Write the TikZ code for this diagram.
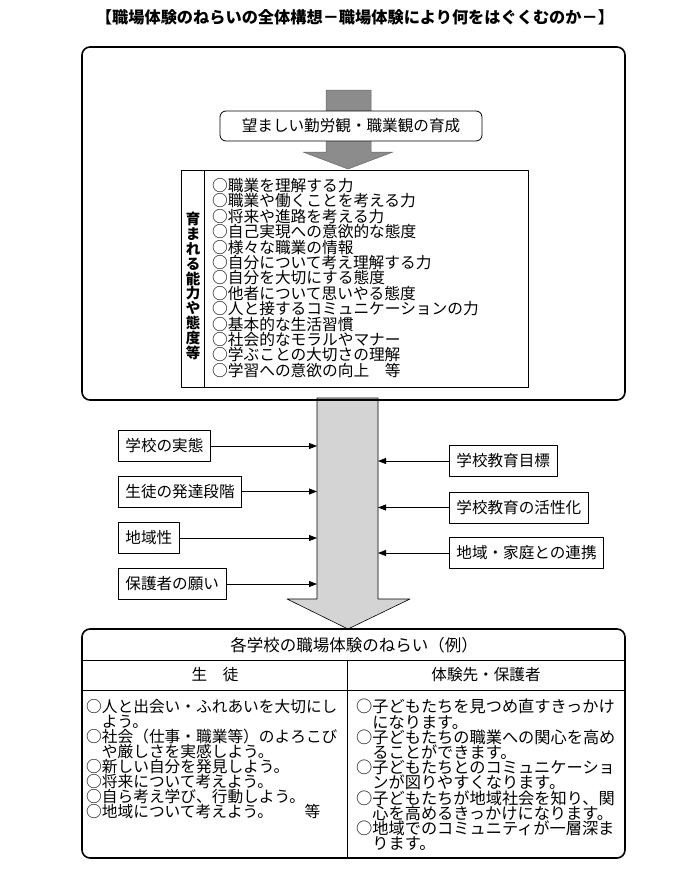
\documentclass[tikz,border=0pt]{standalone}
\usepackage{fontspec}
\setmainfont{Noto Sans CJK JP}
\usetikzlibrary{arrows.meta,positioning}
\tikzset{
  factor/.style={draw, line width=0.8pt, fill=white, inner sep=0pt, inner xsep=7pt, minimum height=31pt, font=\fontsize{15.6}{15.6}\selectfont},
  listtext/.style={inner sep=0pt, align=left, anchor=north west},
  thickframe/.style={line width=1.6pt, rounded corners=8pt}
}
\begin{document}
\begin{tikzpicture}[x=1pt,y=-1pt,>={Triangle[length=8pt,width=6pt]}, line join=round]
	\useasboundingbox (0,0) rectangle (700,886);
	\node[font=\fontsize{16.2}{16.2}\selectfont\bfseries] (title) at (355,17) {【職場体験のねらいの全体構想－職場体験により何をはぐくむのか－】};
	% upper part
	\filldraw[fill=black!45, draw=black!60, line width=0.5pt] (326,90)--(371,90)--(371,152)--(393,152)--(348,169)--(303,152)--(326,152)--cycle;
	\node[draw, fill=white, rounded corners=6pt, line width=0.8pt, minimum width=262pt, minimum height=30pt, font=\fontsize{15.6}{15.6}\selectfont] (goal) at (351,126) {望ましい勤労観・職業観の育成};
	\draw[line width=0.8pt] (181,170) rectangle (528,387) (204,170)--(204,387);
	\node[inner sep=0pt, align=center, font=\fontsize{14.5}{14.9}\selectfont\bfseries] (ability) at (193,286) {育\\ま\\れ\\る\\能\\力\\や\\態\\度\\等};
	\node[listtext, font=\fontsize{15.7}{15.4}\selectfont] (abilitylist) at (212,178) {○職業を理解する力\\○職業や働くことを考える力\\○将来や進路を考える力\\○自己実現への意欲的な態度\\○様々な職業の情報\\○自分について考え理解する力\\○自分を大切にする態度\\○他者について思いやる態度\\○人と接するコミュニケーションの力\\○基本的な生活習慣\\○社会的なモラルやマナー\\○学ぶことの大切さの理解\\○学習への意欲の向上　等};
	% middle arrow
	\filldraw[fill=black!17, draw=black, line width=0.6pt] (317,398)--(378,398)--(378,599)--(410,599)--(348,629)--(287,599)--(317,599)--cycle;
	\draw[thickframe] (82,47) rectangle (625,400);
	\coordinate (sL) at (317,0);
	\coordinate (sR) at (378,0);
	\node[factor, anchor=west] (jittai) at (118,446) {学校の実態};
	\node[factor, anchor=west] (hattatsu) at (118,491.5) {生徒の発達段階};
	\node[factor, anchor=west] (chiiki) at (118,538) {地域性};
	\node[factor, anchor=west] (negai) at (118,584) {保護者の願い};
	\node[factor, anchor=west] (mokuhyo) at (449,461) {学校教育目標};
	\node[factor, anchor=west] (kasseika) at (449,507.5) {学校教育の活性化};
	\node[factor, anchor=west] (renkei) at (449,553) {地域・家庭との連携};
	\foreach \n in {jittai,hattatsu,chiiki,negai}
		\draw[->, line width=0.8pt] (\n.east)--(\n.east -| sL);
	\foreach \n in {mokuhyo,kasseika,renkei}
		\draw[->, line width=0.8pt] (\n.west)--(\n.west -| sR);
	% lower table
	\draw[thickframe, fill=white] (82,629) rectangle (625,858);
	\draw[line width=1pt] (82,660)--(625,660) (82,690)--(625,690) (347,660)--(347,858);
	\node[font=\fontsize{16.5}{16.5}\selectfont] (aim) at (354,645) {各学校の職場体験のねらい（例）};
	\node[font=\fontsize{15.6}{15.6}\selectfont] (student) at (215,675) {生　徒};
	\node[font=\fontsize{15.6}{15.6}\selectfont] (host) at (486,675) {体験先・保護者};
	\node[listtext, font=\fontsize{15.7}{15}\selectfont] (studentlist) at (86,699) {○人と出会い・ふれあいを大切にし\\　よう。\\○社会（仕事・職業等）のよろこび\\　や厳しさを実感しよう。\\○新しい自分を発見しよう。\\○将来について考えよう。\\○自ら考え学び、行動しよう。\\○地域について考えよう。　　等};
	\node[listtext, font=\fontsize{16.2}{15.2}\selectfont] (hostlist) at (356,699) {○子どもたちを見つめ直すきっかけ\\　になります。\\○子どもたちの職業への関心を高め\\　ることができます。\\○子どもたちとのコミュニケーショ\\　ンが図りやすくなります。\\○子どもたちが地域社会を知り、関\\　心を高めるきっかけになります。\\○地域でのコミュニティが一層深ま\\　ります。};
\end{tikzpicture}
\end{document}
